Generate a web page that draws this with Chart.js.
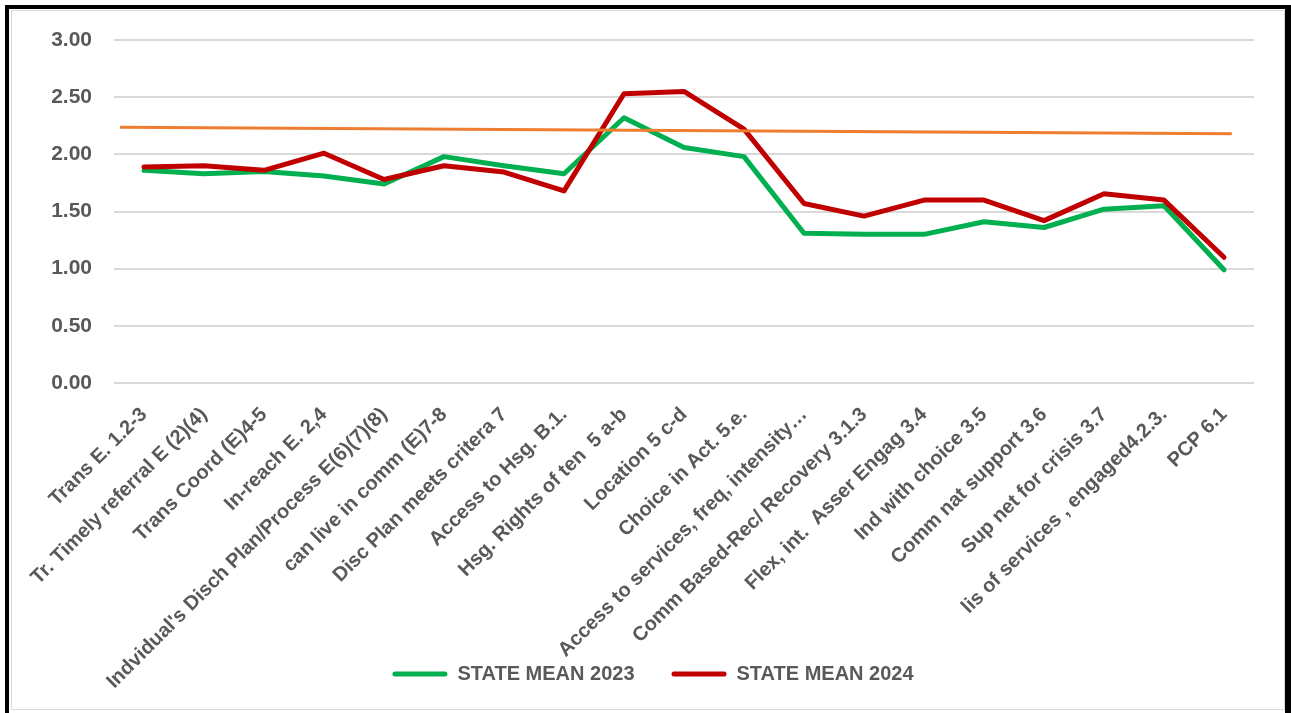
<!DOCTYPE html>
<html lang="en">
<head>
<meta charset="UTF-8" />
<title>State Mean 2023 vs 2024</title>
<script src="https://cdn.jsdelivr.net/npm/chart.js@4.4.1/dist/chart.umd.min.js"></script>
<style>
  html, body {
    margin: 0;
    padding: 0;
    background: #fff;
    overflow: hidden;
  }
  #chart {
    position: absolute;
    left: 0;
    top: 0;
  }
  /* black frame round the chart, bottom edge runs off the page */
  .frame {
    position: absolute;
    left: 5px;
    top: 5px;
    width: 1286px;
    height: 730px;
    box-sizing: border-box;
    border-left: 4px solid #000;
    border-top: 4px solid #000;
    border-right: 6px solid #000;
    pointer-events: none;
  }
  .inner {
    position: absolute;
    left: 11px;
    top: 10px;
    width: 1274px;
    height: 700px;
    box-sizing: border-box;
    border: 1px solid #d9d9d9;
    pointer-events: none;
  }
</style>
</head>
<body>
<canvas id="chart" width="1291" height="694"></canvas>
<div class="inner"></div>
<div class="frame"></div>

<script>
// categories on the x axis
const categories = [
  "Trans E. 1.2-3",
  "Tr. Timely referral E (2)(4)",
  "Trans Coord (E)4-5",
  "In-reach E. 2,4",
  "Indvidual's Disch Plan/Process E(6)(7)(8)",
  "can live in comm (E)7-8",
  "Disc Plan meets critera 7",
  "Access to Hsg. B.1.",
  "Hsg. Rights of ten  5 a-b",
  "Location 5 c-d",
  "Choice in Act. 5.e.",
  "Access to services, freq, intensity…",
  "Comm Based-Rec/ Recovery 3.1.3",
  "Flex, int.  Asser Engag 3.4",
  "Ind with choice 3.5",
  "Comm nat support 3.6",
  "Sup net for crisis 3.7",
  "lis of services , engaged4.2.3.",
  "PCP 6.1"
];

// state means per item
const mean2023 = [1.86, 1.83, 1.85, 1.81, 1.74, 1.98, 1.90, 1.83, 2.32, 2.06, 1.98, 1.31, 1.30, 1.30, 1.41, 1.36, 1.52, 1.55, 0.99];
const mean2024 = [1.89, 1.90, 1.86, 2.01, 1.78, 1.90, 1.845, 1.68, 2.53, 2.55, 2.22, 1.57, 1.46, 1.60, 1.60, 1.42, 1.655, 1.60, 1.10];

// linear trend line end points (category index, value)
const trendX = [-0.4, 18.13];
const trendY = [2.237, 2.18];

const yTicks = [0, 0.5, 1, 1.5, 2, 2.5, 3];

const grey = "#595959";
const fontFamily = "'Liberation Sans', Arial, sans-serif";

// let tick labels spill past their own axis box
const noLabelClip = (scale) => {
  scale._computeLabelArea = () => undefined;
};

new Chart(document.getElementById("chart"), {
  type: "line",
  data: {
    labels: categories,
    datasets: [
      {
        label: "Trend",
        data: trendX.map((x, i) => ({ x: x, y: trendY[i] })),
        xAxisID: "xt",
        borderColor: "#ED7D31",
        borderWidth: 3,
        pointRadius: 0,
        order: 0
      },
      {
        label: "STATE MEAN 2024",
        data: mean2024,
        borderColor: "#C00000",
        backgroundColor: "#C00000",
        borderWidth: 5,
        pointRadius: 0,
        borderJoinStyle: "round",
        borderCapStyle: "round",
        order: 1
      },
      {
        label: "STATE MEAN 2023",
        data: mean2023,
        borderColor: "#00B050",
        backgroundColor: "#00B050",
        borderWidth: 5,
        pointRadius: 0,
        borderJoinStyle: "round",
        borderCapStyle: "round",
        order: 2
      }
    ]
  },
  options: {
    responsive: false,
    animation: false,
    layout: {
      padding: { top: 40, left: 52, right: 37, bottom: 0 }
    },
    plugins: {
      tooltip: { enabled: false },
      legend: {
        position: "bottom",
        labels: {
          color: grey,
          font: { family: fontFamily, size: 20, weight: "bold" },
          boxWidth: 55,
          boxHeight: 5,
          useBorderRadius: true,
          padding: 37,
          generateLabels(chart) {
            // 2023 first, trend line left out
            return [2, 1].map((i) => {
              const ds = chart.data.datasets[i];
              return {
                text: ds.label,
                fillStyle: ds.borderColor,
                strokeStyle: ds.borderColor,
                lineWidth: 0,
                borderRadius: 2.5,
                fontColor: grey,
                datasetIndex: i
              };
            });
          }
        }
      }
    },
    scales: {
      x: {
        offset: true,
        grid: { display: false },
        border: { display: false },
        afterFit(scale) {
          scale.height = 244;
          noLabelClip(scale);
        },
        ticks: {
          autoSkip: false,
          minRotation: 45,
          maxRotation: 45,
          padding: 12,
          color: grey,
          font: { family: fontFamily, size: 20, weight: "bold" }
        }
      },
      xt: {
        type: "linear",
        display: false,
        min: -0.5,
        max: categories.length - 0.5
      },
      y: {
        min: yTicks[0],
        max: yTicks[yTicks.length - 1],
        afterBuildTicks(scale) {
          scale.ticks = yTicks.map((v) => ({ value: v }));
        },
        afterFit(scale) {
          scale.width = 62;
          noLabelClip(scale);
        },
        grid: {
          color: "#d9d9d9",
          lineWidth: 2,
          drawTicks: false
        },
        border: { display: false },
        ticks: {
          padding: 22,
          color: grey,
          font: { family: fontFamily, size: 21, weight: "bold" },
          callback: (v) => Number(v).toFixed(2)
        }
      }
    }
  }
});
</script>
</body>
</html>
